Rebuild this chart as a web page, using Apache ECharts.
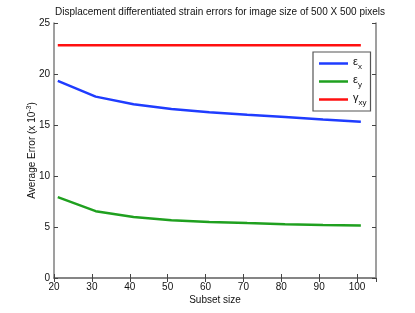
<!DOCTYPE html>
<html><head><meta charset="utf-8">
<script src="https://cdn.jsdelivr.net/npm/echarts@6/dist/echarts.min.js"></script>
<style>html,body{margin:0;padding:0;background:#fff}#c{width:415px;height:313px}</style>
</head><body><div id="c"></div>
<script>
const subsetSizes = [21, 31, 41, 51, 61, 71, 81, 91, 101];
const epsX = [19.32, 17.78, 17.03, 16.57, 16.25, 16.0, 15.78, 15.55, 15.33];
const epsY = [7.93, 6.55, 5.99, 5.67, 5.50, 5.38, 5.28, 5.20, 5.14];
const gammaXY = [22.83, 22.83, 22.83, 22.83, 22.83, 22.83, 22.83, 22.83, 22.83];
const seriesNames = ['εx', 'εy', 'γxy'];
const legendLabels = {'εx': ['ε', 'x'], 'εy': ['ε', 'y'], 'γxy': ['γ', 'xy']};
const titleText = 'Displacement differentiated strain errors for image size of 500 X 500 pixels';

const FONT = 'Liberation Sans, Arial, Helvetica, sans-serif';
const axisColor = '#7f7f7f';
const colors = ['#1f3cff', '#1fa01f', '#ff1010'];
function pairs(xs, ys){ return xs.map((x,i)=>[x, ys[i]]); }
const chart = echarts.init(document.getElementById('c'), null, {renderer:'canvas'});
const baseAxis = {
  axisLine:{show:true, lineStyle:{color:axisColor, width:1.5}},
  axisTick:{show:true, inside:true, length:4, lineStyle:{color:'#444', width:1}},
  splitLine:{show:false}
};
chart.setOption({
  animation:false,
  textStyle:{fontFamily:FONT},
  title:{text:titleText, left:215, textAlign:'center', top:2,
    textStyle:{fontFamily:FONT, fontSize:10, fontWeight:'normal', color:'#111'}},
  grid:{left:54, right:39, top:23, bottom:35},
  legend:{
    orient:'vertical', left:313, top:52,
    data:seriesNames.map(n => ({name:n, icon:'rect'})),
    backgroundColor:'#fff', borderColor:'#555', borderWidth:1.2,
    padding:[4,4,4,6], itemGap:3, itemWidth:29, itemHeight:2.5,
    formatter: n => '{b|' + legendLabels[n][0] + '}{s|' + legendLabels[n][1] + '}',
    textStyle:{fontFamily:FONT, color:'#111',
      rich:{b:{fontSize:11, fontFamily:FONT, color:'#111', verticalAlign:'top', lineHeight:14},
            s:{fontSize:8, fontFamily:FONT, color:'#111', verticalAlign:'bottom', padding:[7,0,0,0]}}}
  },
  xAxis:[
    Object.assign({type:'value', min:20, max:105, interval:10, position:'bottom',
      name:'Subset size', nameLocation:'middle', nameGap:17, nameMoveOverlap:false,
      nameTextStyle:{fontFamily:FONT, fontSize:10, color:'#111'},
      axisLabel:{fontFamily:FONT, fontSize:10, color:'#111', margin:4, showMaxLabel:false,
        formatter: v => (v > 100 ? '' : String(v))}}, baseAxis),
    Object.assign({type:'value', min:20, max:105, interval:10, position:'top',
      axisLabel:{show:false}}, baseAxis)
  ],
  yAxis:[
    Object.assign({type:'value', min:0, max:25, interval:5, position:'left',
      name:'Average Error (x 10{sup|-3})', nameLocation:'middle', nameGap:16, nameMoveOverlap:false,
      nameTextStyle:{fontFamily:FONT, fontSize:10, color:'#111',
        rich:{sup:{fontSize:7, fontFamily:FONT, color:'#111', verticalAlign:'top', padding:[0,0,5,0]}}},
      axisLabel:{fontFamily:FONT, fontSize:10, color:'#111', margin:4}}, baseAxis),
    Object.assign({type:'value', min:0, max:25, interval:5, position:'right',
      axisLabel:{show:false}}, baseAxis)
  ],
  series:[
    {name:seriesNames[0], type:'line', data:pairs(subsetSizes, epsX), symbol:'none',
      lineStyle:{color:colors[0], width:2.5}, itemStyle:{color:colors[0]}},
    {name:seriesNames[1], type:'line', data:pairs(subsetSizes, epsY), symbol:'none',
      lineStyle:{color:colors[1], width:2.5}, itemStyle:{color:colors[1]}},
    {name:seriesNames[2], type:'line', data:pairs(subsetSizes, gammaXY), symbol:'none',
      lineStyle:{color:colors[2], width:2.5}, itemStyle:{color:colors[2]}}
  ]
});
</script></body></html>
